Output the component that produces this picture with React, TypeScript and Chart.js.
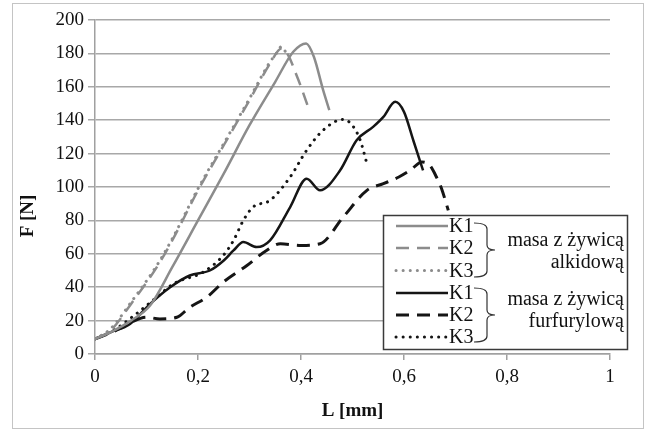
import { useEffect, useRef } from 'react';
import { Chart, registerables } from 'chart.js';

Chart.register(...registerables);

// ---- data ----
const xTickLabels = ['0', '0,2', '0,4', '0,6', '0,8', '1'];
const seriesLabels = ['K1', 'K2', 'K3', 'K1', 'K2', 'K3'];
const groupAlkid = ['masa z żywicą', 'alkidową'];
const groupFurfuryl = ['masa z żywicą', 'furfurylową'];
const xTitle = 'L [mm]';
const yTitle = 'F [N]';

const alkK1X = [0, 0.03, 0.07, 0.107, 0.15, 0.2, 0.25, 0.3, 0.35, 0.385, 0.41, 0.425, 0.443, 0.455];
const alkK1Y = [9, 13, 20, 29, 52, 80, 108, 137, 163, 181, 186, 178, 158, 146];

const alkK2X = [0, 0.03, 0.07, 0.12, 0.15, 0.2, 0.25, 0.3, 0.34, 0.362, 0.375, 0.39, 0.4, 0.417];
const alkK2Y = [9, 14, 30, 52, 68, 98, 125, 152, 174, 183, 179, 168, 160, 145];

const alkK3X = [0, 0.03, 0.07, 0.12, 0.15, 0.2, 0.25, 0.3, 0.34, 0.35, 0.362, 0.372];
const alkK3Y = [9, 15, 31, 53, 69, 99, 126, 153, 175, 179, 184, 180];

const furK1X = [0, 0.03, 0.068, 0.107, 0.146, 0.184, 0.223, 0.25, 0.269, 0.288, 0.314, 0.34, 0.379, 0.411, 0.437, 0.476, 0.508, 0.54, 0.56, 0.583, 0.6, 0.618, 0.637];
const furK1Y = [9, 13, 18, 30, 40, 47, 50, 56, 62, 67, 64, 68, 88, 105, 98, 110, 128, 136, 142, 151, 145, 128, 110];

const furK2X = [0, 0.04, 0.07, 0.1, 0.126, 0.159, 0.184, 0.217, 0.249, 0.295, 0.333, 0.36, 0.4, 0.437, 0.482, 0.528, 0.56, 0.59, 0.612, 0.635, 0.65, 0.663, 0.673, 0.686];
const furK2Y = [9, 14, 19, 22, 21, 22, 28, 34, 43, 53, 62, 66, 65, 66, 82, 98, 102, 106, 110, 115, 113, 106, 99, 86];

const furK3X = [0, 0.04, 0.08, 0.12, 0.152, 0.21, 0.249, 0.269, 0.288, 0.307, 0.34, 0.379, 0.411, 0.443, 0.482, 0.502, 0.515, 0.528];
const furK3Y = [9, 15, 24, 34, 42, 49, 59, 68, 80, 88, 92, 106, 122, 134, 140.5, 136, 128, 114];

// ---- styles ----
const GRAY = '#8c8c8c';
const BLACK = '#151515';
const FONT = '"Liberation Serif", "Times New Roman", serif';
const DASH = [13, 8];
const DOT = [0.1, 7];

const pts = (xs: number[], ys: number[]) => xs.map((x, i) => ({ x, y: ys[i] }));

function drawBrace(ctx: CanvasRenderingContext2D, x0: number, top: number, bottom: number, xv: number, xt: number) {
  const mid = (top + bottom) / 2;
  ctx.beginPath();
  ctx.moveTo(x0, top);
  ctx.quadraticCurveTo(xv, top, xv, top + 6);
  ctx.lineTo(xv, mid - 5);
  ctx.quadraticCurveTo(xv, mid, xt, mid);
  ctx.quadraticCurveTo(xv, mid, xv, mid + 5);
  ctx.lineTo(xv, bottom - 6);
  ctx.quadraticCurveTo(xv, bottom, x0, bottom);
  ctx.stroke();
}

const framePlugin = {
  id: 'frame',
  beforeDraw(chart: any) {
    const ctx = chart.ctx as CanvasRenderingContext2D;
    ctx.save();
    ctx.fillStyle = '#ffffff';
    ctx.fillRect(0, 0, chart.width, chart.height);
    ctx.strokeStyle = '#c4c4c4';
    ctx.lineWidth = 1;
    ctx.strokeRect(12.5, 3.5, 631, 425);
    ctx.restore();
  },
};

const customLegend = {
  id: 'customLegend',
  afterDraw(chart: any) {
    const ctx = chart.ctx as CanvasRenderingContext2D;
    const ca = chart.chartArea;
    ctx.save();
    // axis titles
    ctx.fillStyle = '#111';
    ctx.font = 'bold 19px ' + FONT;
    ctx.textAlign = 'center';
    ctx.textBaseline = 'middle';
    ctx.fillText(xTitle, (ca.left + ca.right) / 2, 411);
    ctx.save();
    ctx.translate(28, 216);
    ctx.rotate(-Math.PI / 2);
    ctx.fillText(yTitle, 0, 0);
    ctx.restore();

    // legend box
    const bx = 383.5, by = 215.5, bw = 244, bh = 134;
    ctx.fillStyle = '#ffffff';
    ctx.fillRect(bx, by, bw, bh);
    ctx.strokeStyle = '#3a3a3a';
    ctx.lineWidth = 1.5;
    ctx.strokeRect(bx, by, bw, bh);

    const rows = [226, 248, 270.5, 293, 315, 337];
    chart.data.datasets.forEach((ds: any, i: number) => {
      const y = rows[i];
      ctx.beginPath();
      ctx.setLineDash(ds.borderDash || []);
      ctx.lineCap = ds.borderCapStyle || 'butt';
      ctx.strokeStyle = ds.borderColor;
      ctx.lineWidth = ds.borderWidth;
      ctx.moveTo(396, y);
      ctx.lineTo(448, y);
      ctx.stroke();
      ctx.setLineDash([]);
      ctx.lineCap = 'butt';
      ctx.fillStyle = '#111';
      ctx.font = '20px ' + FONT;
      ctx.textAlign = 'left';
      ctx.textBaseline = 'middle';
      ctx.fillText(seriesLabels[i], 449, y + 1);
    });

    ctx.strokeStyle = '#333';
    ctx.lineWidth = 1.2;
    drawBrace(ctx, 474, 223, 277, 487, 495);
    drawBrace(ctx, 474, 288, 342, 487, 495);

    ctx.fillStyle = '#111';
    ctx.font = '20px ' + FONT;
    ctx.textAlign = 'right';
    ctx.textBaseline = 'middle';
    ctx.fillText(groupAlkid[0], 624, 241);
    ctx.fillText(groupAlkid[1], 624, 263);
    ctx.fillText(groupFurfuryl[0], 624, 300);
    ctx.fillText(groupFurfuryl[1], 624, 322);
    ctx.restore();
  },
};

export default function App() {
  const ref = useRef<HTMLCanvasElement | null>(null);
  useEffect(() => {
    if (!ref.current) return;
    const common = { pointRadius: 0, borderWidth: 2.5, fill: false, cubicInterpolationMode: 'monotone' as const };
    const chart = new Chart(ref.current, {
      type: 'line',
      data: {
        datasets: [
          { ...common, label: 'K1 alkid', data: pts(alkK1X, alkK1Y), borderColor: GRAY, borderDash: [] },
          { ...common, label: 'K2 alkid', data: pts(alkK2X, alkK2Y), borderColor: GRAY, borderDash: DASH },
          { ...common, label: 'K3 alkid', data: pts(alkK3X, alkK3Y), borderColor: GRAY, borderDash: DOT, borderCapStyle: 'round', borderWidth: 3 },
          { ...common, label: 'K1 furf', data: pts(furK1X, furK1Y), borderColor: BLACK, borderDash: [] },
          { ...common, label: 'K2 furf', data: pts(furK2X, furK2Y), borderColor: BLACK, borderDash: DASH, borderWidth: 3 },
          { ...common, label: 'K3 furf', data: pts(furK3X, furK3Y), borderColor: BLACK, borderDash: DOT, borderCapStyle: 'round', borderWidth: 3 },
        ] as any,
      },
      options: {
        animation: false,
        responsive: false,
        devicePixelRatio: 1,
        layout: { padding: { left: 0, top: 20, right: 43, bottom: 0 } },
        plugins: { legend: { display: false }, tooltip: { enabled: false }, title: { display: false } },
        scales: {
          x: {
            type: 'linear',
            min: 0,
            max: 1,
            ticks: {
              stepSize: 0.2,
              color: '#111',
              font: { family: FONT, size: 19 },
              padding: 6,
              maxRotation: 0,
              callback: (_v: any, i: number) => xTickLabels[i],
            },
            grid: { drawOnChartArea: false, drawTicks: true, tickLength: 6, color: '#a0a0a0', lineWidth: 1.5 },
            border: { display: true, color: '#a0a0a0', width: 1.5 },
            afterFit: (s: any) => { s.height = 78; },
          },
          y: {
            min: 0,
            max: 200,
            ticks: { stepSize: 20, color: '#111', font: { family: FONT, size: 19 }, padding: 4 },
            grid: { color: '#a8a8a8', lineWidth: 1.5, tickLength: 7 },
            border: { display: true, color: '#a0a0a0', width: 1.5 },
            afterFit: (s: any) => { s.width = 95; },
          },
        },
      },
      plugins: [framePlugin, customLegend],
    });
    return () => chart.destroy();
  }, []);
  return (
    <div style={{ position: 'absolute', left: 0, top: 0, width: 653, height: 432 }}>
      <canvas ref={ref} width={653} height={432} />
    </div>
  );
}
